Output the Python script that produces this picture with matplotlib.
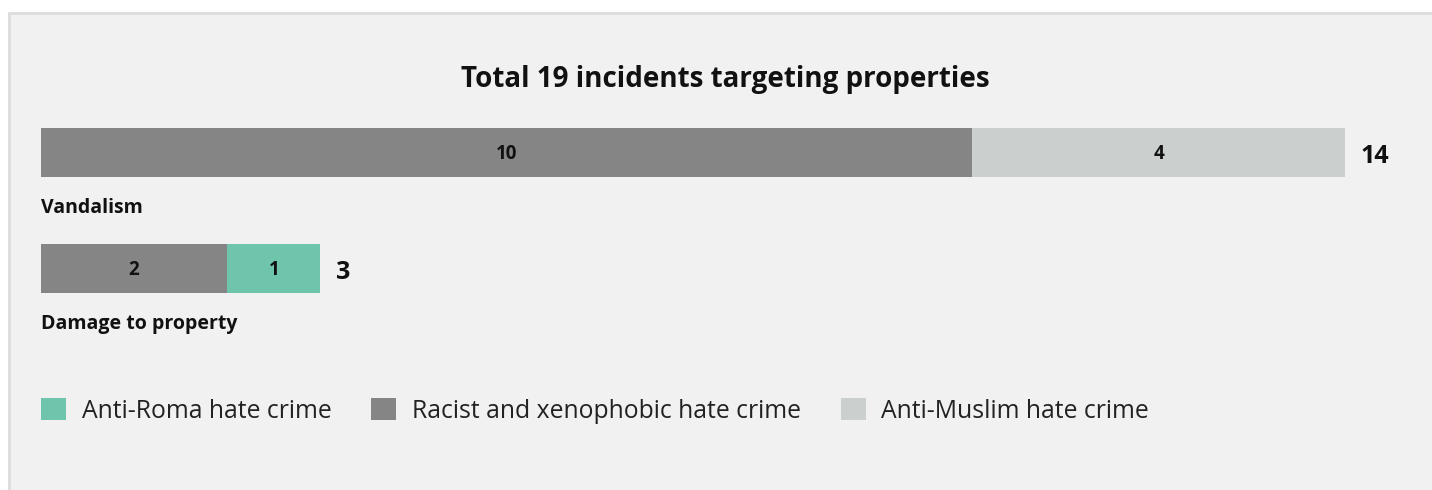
import matplotlib
matplotlib.use("Agg")
import matplotlib.pyplot as plt
from matplotlib.patches import Rectangle

categories = ["Vandalism", "Damage to property"]
racist = [10, 2]
muslim = [4, 0]
roma = [0, 1]
series_names = ["Anti-Roma hate crime", "Racist and xenophobic hate crime", "Anti-Muslim hate crime"]
title = "Total 19 incidents targeting properties"

C_ROMA = "#6fc5ab"
C_RACIST = "#858585"
C_MUSLIM = "#cbcfce"
BG = "#f1f1f1"

plt.rcParams['font.family'] = ['Open Sans', 'DejaVu Sans']

W, H = 1432, 490
fig = plt.figure(figsize=(W / 100, H / 100), dpi=100)
fig.patch.set_facecolor("white")
bgrect = Rectangle((9 / W, -0.01), (W - 9) / W + 0.01, (H - 13) / H + 0.01, transform=fig.transFigure,
                   facecolor=BG, edgecolor="#dcdcdc", linewidth=2, zorder=-10)
fig.patches.append(bgrect)

ax = fig.add_axes([41 / W, 0, 1304 / W, 1])
ax.set_zorder(5)
ax.set_xlim(0, 14)
ax.set_ylim(H, 0)
ax.axis("off")
ax.patch.set_visible(False)

ycent = [152.5, 268.5]
bh = 49

left = [0, 0]
handles = {}
for vals, color, name in [(racist, C_RACIST, series_names[1]), (muslim, C_MUSLIM, series_names[2]), (roma, C_ROMA, series_names[0])]:
    b = ax.barh(ycent, vals, left=left, height=bh, color=color, label=name)
    handles[name] = b
    for i, v in enumerate(vals):
        if v > 0:
            ax.text(left[i] + v / 2, ycent[i] + 1, str(v), ha="center", va="center",
                    fontsize=13.5, fontweight="bold", color="#111111")
    left = [l + v for l, v in zip(left, vals)]

for i, cat in enumerate(categories):
    tot = racist[i] + muslim[i] + roma[i]
    ax.text(left[i] + 0.17, ycent[i] + 4, str(tot), ha="left", va="center",
            fontsize=18, fontweight="bold", color="#111111")
    ax.text(0, ycent[i] + 55, cat, ha="left", va="center",
            fontsize=14, fontweight="bold", color="#111111")

fig.text(725 / W, 1 - 80 / H, title, ha="center", va="center", fontsize=20, fontweight="bold", color="#111111")

leg = fig.legend([handles[n] for n in series_names], series_names, loc="center left",
                 bbox_to_anchor=(41 / W, 1 - 411 / H), ncol=3, frameon=False,
                 fontsize=17.8, handlelength=1.0, handleheight=1.0, handletextpad=0.64,
                 columnspacing=1.62, borderpad=0, borderaxespad=0)
leg.set_zorder(6)
for t in leg.get_texts():
    t.set_color("#222222")

fig.savefig("out.png", dpi=100, facecolor=fig.get_facecolor())
